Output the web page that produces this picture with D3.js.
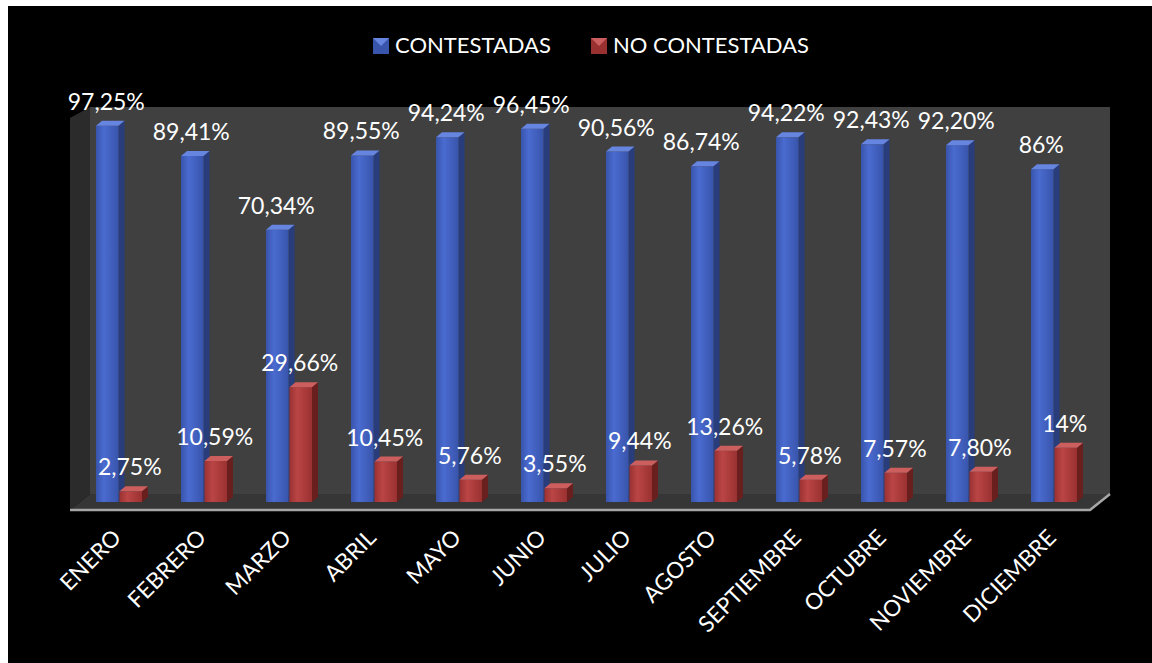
<!DOCTYPE html>
<html>
<head>
<meta charset="utf-8">
<script src="https://cdn.jsdelivr.net/npm/d3@7"></script>
<style>
    html, body { margin: 0; padding: 0; background: #ffffff; }
    svg { display: block; }
    text { font-family: Lato, 'Open Sans', sans-serif; fill: #ffffff; }
</style>
</head>
<body>
<div id="chart"></div>
<script>
// Data
const months = ['ENERO', 'FEBRERO', 'MARZO', 'ABRIL', 'MAYO', 'JUNIO',
                'JULIO', 'AGOSTO', 'SEPTIEMBRE', 'OCTUBRE', 'NOVIEMBRE', 'DICIEMBRE'];
const seriesNames = ['CONTESTADAS', 'NO CONTESTADAS'];
const contestadas = [97.25, 89.41, 70.34, 89.55, 94.24, 96.45, 90.56, 86.74, 94.22, 92.43, 92.20, 86];
const noContestadas = [2.75, 10.59, 29.66, 10.45, 5.76, 3.55, 9.44, 13.26, 5.78, 7.57, 7.80, 14];

const width = 1152;
const height = 663;

// 3D look: depth of the floor and of each bar
const depthX = 20, depthY = 16;
const barDX = 6, barDY = 5;

const colors = {
    'CONTESTADAS': { front: ['#4a6bd0', '#3854ab'], side: '#293d7c', top: '#6585e0' },
    'NO CONTESTADAS': { front: ['#bb4545', '#9a3131'], side: '#6a1f1f', top: '#cd5e5e' }
};

function formatPct(v) {
    return (Number.isInteger(v) ? String(v) : v.toFixed(2).replace('.', ',')) + '%';
}

function createChart() {
    const svg = d3.select('#chart')
        .append('svg')
        .attr('width', width)
        .attr('height', height);

    // black chart area inside the white margin
    svg.append('rect')
        .attr('x', 8).attr('y', 6)
        .attr('width', width - 8).attr('height', height - 6)
        .attr('fill', '#000000');

    // Scales (bars stand in the middle of the floor depth)
    const x0 = d3.scaleBand()
        .domain(months)
        .range([80, 1100]);

    const x1 = d3.scaleBand()
        .domain(seriesNames)
        .range([16, 62])
        .paddingInner(0.04);

    const y = d3.scaleLinear()
        .domain([0, 100])
        .range([502, 115]);

    createGradients(svg);
    createWalls(svg, x0, y);
    createBars(svg, x0, x1, y);
    createAxisLabels(svg, x0, y);
    createLegend(svg);
}

function createGradients(svg) {
    const defs = svg.append('defs');
    seriesNames.forEach((s, i) => {
        const grad = defs.append('linearGradient')
            .attr('id', 'grad' + i)
            .attr('x1', '0%').attr('x2', '100%');
        grad.append('stop').attr('offset', '0%').attr('stop-color', colors[s].front[1]);
        grad.append('stop').attr('offset', '35%').attr('stop-color', colors[s].front[0]);
        grad.append('stop').attr('offset', '100%').attr('stop-color', colors[s].front[1]);
    });
}

// Back wall, side wall and floor
function createWalls(svg, x0, y) {
    const left = x0.range()[0] - depthX / 2;
    const right = x0.range()[1] - depthX / 2;
    const bottom = y(0) + depthY / 2;
    const top = y(100) - depthY / 2;

    // back wall
    svg.append('rect')
        .attr('x', left + depthX).attr('y', top)
        .attr('width', right - left).attr('height', bottom - depthY - top)
        .attr('fill', '#404040');

    // left side wall
    svg.append('polygon')
        .attr('points', [[left, top + 11], [left + depthX, top],
            [left + depthX, bottom - depthY], [left, bottom]].join(' '))
        .attr('fill', '#2b2b2b');

    // floor
    svg.append('polygon')
        .attr('points', [[left, bottom], [left + depthX, bottom - depthY],
            [right + depthX, bottom - depthY], [right, bottom]].join(' '))
        .attr('fill', '#363636');

    // floor front edge
    svg.append('path')
        .attr('d', `M${left},${bottom}H${right}L${right + depthX},${bottom - depthY}`)
        .attr('fill', 'none')
        .attr('stroke', '#a6a6a6')
        .attr('stroke-width', 2.5);
}

function createBars(svg, x0, x1, y) {
    const rows = [];
    months.forEach((m, i) => {
        rows.push({ month: m, series: seriesNames[0], value: contestadas[i], idx: 0 });
        rows.push({ month: m, series: seriesNames[1], value: noContestadas[i], idx: 1 });
    });

    const w = x1.bandwidth();
    const g = svg.append('g').attr('class', 'bars');

    const bar = g.selectAll('.bar')
        .data(rows)
        .enter().append('g')
        .attr('class', 'bar');

    // side face
    bar.append('polygon')
        .attr('points', d => {
            const bx = x0(d.month) + x1(d.series) + w;
            const top = y(d.value), base = y(0);
            return [[bx, top], [bx + barDX, top - barDY], [bx + barDX, base - barDY], [bx, base]].join(' ');
        })
        .attr('fill', d => colors[d.series].side);

    // front face
    bar.append('rect')
        .attr('x', d => x0(d.month) + x1(d.series))
        .attr('y', d => y(d.value))
        .attr('width', w)
        .attr('height', d => y(0) - y(d.value))
        .attr('fill', d => `url(#grad${d.idx})`);

    // top face
    bar.append('polygon')
        .attr('points', d => {
            const bx = x0(d.month) + x1(d.series);
            const top = y(d.value);
            return [[bx, top], [bx + barDX, top - barDY], [bx + w + barDX, top - barDY], [bx + w, top]].join(' ');
        })
        .attr('fill', d => colors[d.series].top);

    // value labels
    g.selectAll('.value-label')
        .data(rows)
        .enter().append('text')
        .attr('class', 'value-label')
        .attr('x', d => x0(d.month) + x1(d.series) + w / 2 - 1)
        .attr('y', d => y(d.value) - 16)
        .attr('text-anchor', 'middle')
        .style('font-size', '23px')
        .text(d => formatPct(d.value));
}

// Rotated month labels under the floor
function createAxisLabels(svg, x0, y) {
    svg.append('g')
        .selectAll('text')
        .data(months)
        .enter().append('text')
        .attr('class', 'axis-label')
        .attr('transform', d => `translate(${x0(d) + x0.bandwidth() / 2},${y(0) + 37}) rotate(-45)`)
        .attr('text-anchor', 'end')
        .style('font-size', '22.5px')
        .text(d => d);
}

function createLegend(svg) {
    const legend = svg.append('g').attr('class', 'legend');
    const xs = [373, 591];
    seriesNames.forEach((s, i) => {
        const gx = xs[i], gy = 38, size = 16;
        legend.append('rect')
            .attr('x', gx).attr('y', gy)
            .attr('width', size).attr('height', size)
            .attr('fill', colors[s].front[1]);
        legend.append('polygon')
            .attr('points', [[gx, gy], [gx + size, gy], [gx + size / 2, gy + size / 2]].join(' '))
            .attr('fill', colors[s].top);
        legend.append('text')
            .attr('x', gx + 22)
            .attr('y', gy + 15)
            .style('font-size', '22px')
            .text(s);
    });
}

document.addEventListener('DOMContentLoaded', createChart);
</script>
</body>
</html>
